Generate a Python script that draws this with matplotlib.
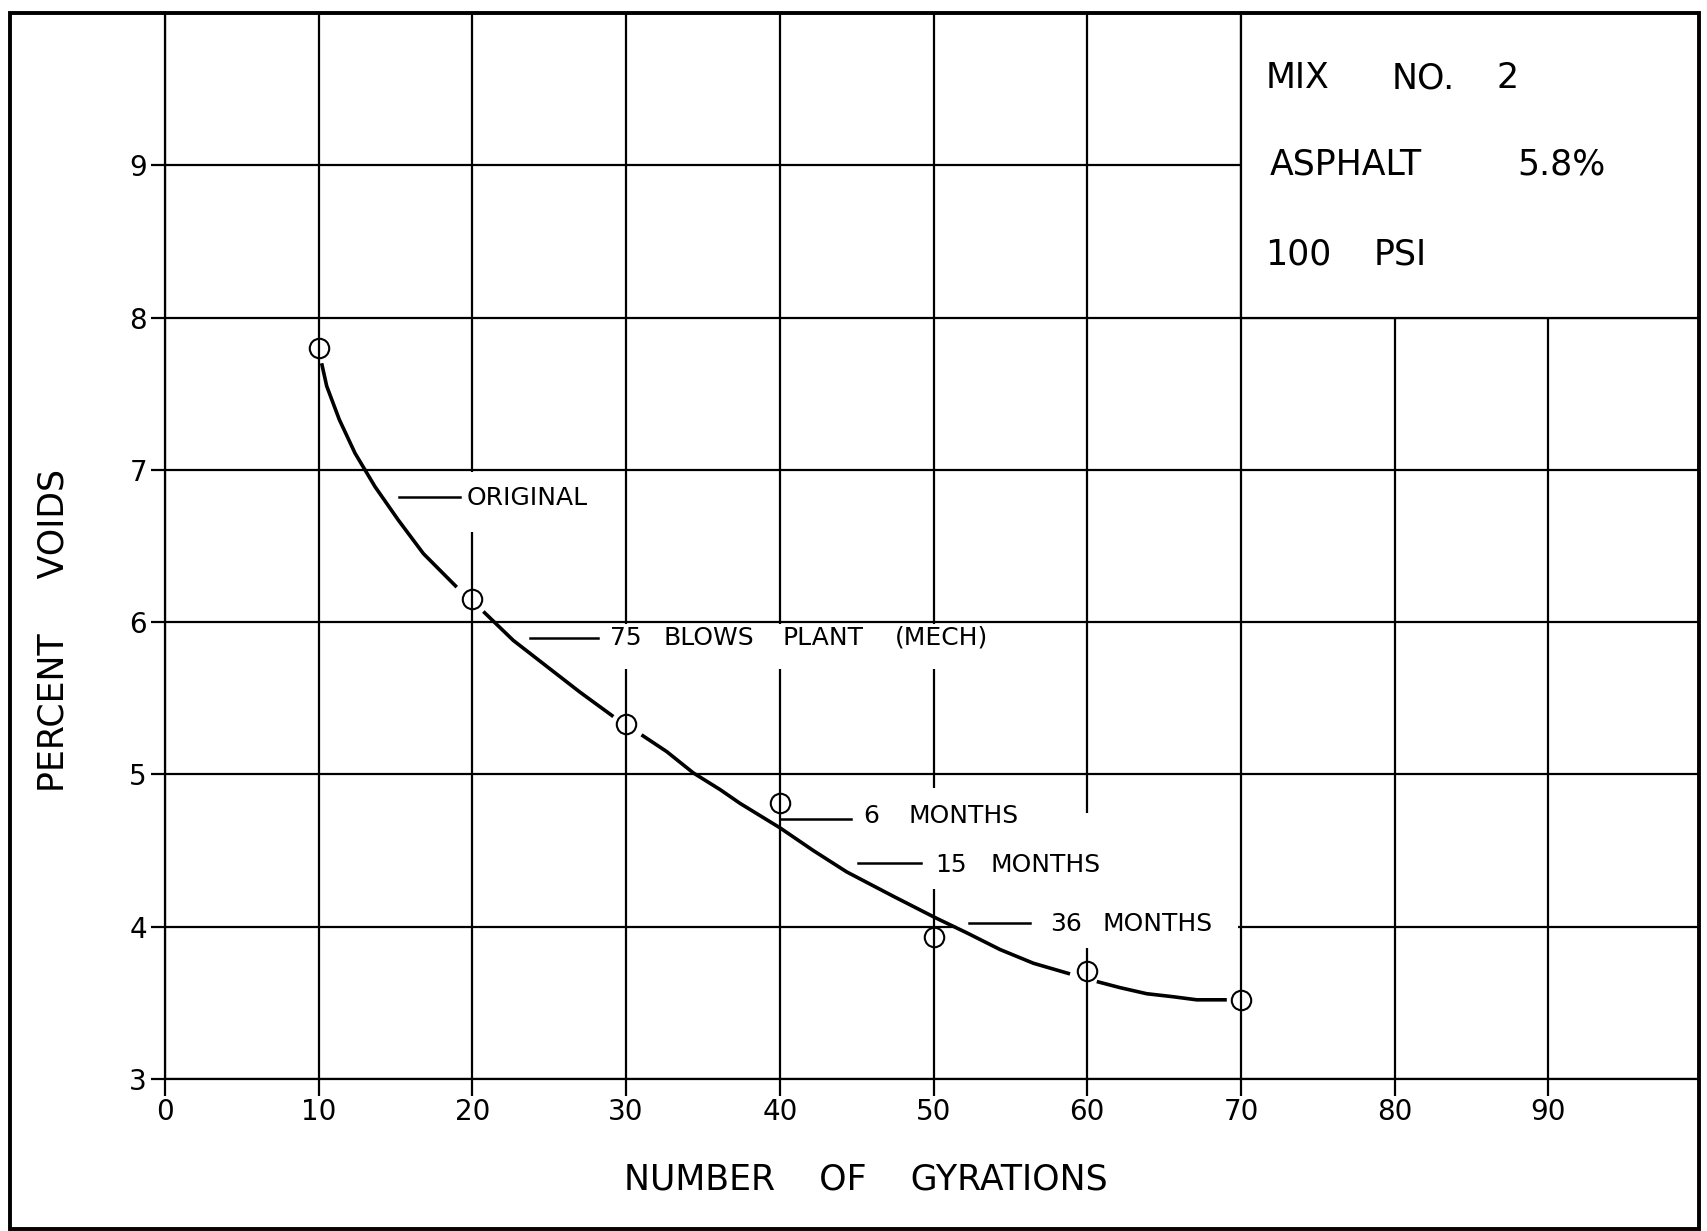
import matplotlib
matplotlib.use("Agg")
import matplotlib.pyplot as plt
from matplotlib.patches import Rectangle

# measured points (circles)
gyrations = [10, 20, 30, 40, 50, 60, 70]
voids = [7.80, 6.15, 5.33, 4.81, 3.93, 3.71, 3.52]

# hand drawn curve in four pieces (gaps at the circles)
curve_x1 = [10.19, 10.52, 11.34, 12.36, 13.01, 13.66, 15.18, 16.81, 18.98]
curve_y1 = [7.70, 7.55, 7.33, 7.11, 7.00, 6.89, 6.67, 6.45, 6.23]
curve_x2 = [20.71, 22.66, 24.83, 27.0, 29.17]
curve_y2 = [6.07, 5.88, 5.71, 5.54, 5.38]
curve_x3 = [31.0, 32.64, 34.37, 36.12, 37.41, 40.0, 42.18, 44.35, 47.38,
            50.1, 52.16, 54.33, 56.5, 58.88]
curve_y3 = [5.26, 5.15, 5.01, 4.90, 4.81, 4.65, 4.50, 4.36, 4.20,
            4.06, 3.96, 3.85, 3.76, 3.69]
curve_x4 = [60.62, 62.13, 63.87, 65.6, 67.12, 69.08]
curve_y4 = [3.64, 3.60, 3.56, 3.54, 3.52, 3.52]

x_ticks = list(range(0, 100, 10))
y_ticks = list(range(3, 10))

info_lines = [("MIX", "NO.", "2"), ("ASPHALT", "5.8%"), ("100", "PSI")]

plt.rcParams['font.family'] = 'DejaVu Sans'

W, H = 1708, 1231
fig = plt.figure(figsize=(W / 100, H / 100), dpi=100)
ax = fig.add_axes([165 / W, 1 - 1079 / H, (1699 - 165) / W, (1079 - 13) / H])
ax.set_xlim(0, 99.8)
ax.set_ylim(3, 10)

ax.set_xticks(x_ticks)
ax.set_yticks(y_ticks)
ax.tick_params(axis='x', direction='out', length=12, width=1.6, pad=2, labelsize=20)
ax.tick_params(axis='y', direction='out', length=10, width=1.6, pad=3, labelsize=20)
ax.set_axisbelow(True)
ax.grid(True, color='black', lw=1.6)
for side in ['top', 'right']:
    ax.spines[side].set_visible(False)
for side in ['left', 'bottom']:
    ax.spines[side].set_linewidth(1.6)

# white areas where the grid was left out behind the notes
masks = [(15.0, 6.59, 12.5, 0.395), (23.5, 5.69, 30.5, 0.30),
         (40.3, 4.60, 15.7, 0.31), (44.8, 4.25, 16.2, 0.50),
         (51.5, 3.86, 18.3, 0.39)]
for mx, my, mw, mh in masks:
    ax.add_patch(Rectangle((mx, my), mw, mh, facecolor='white', edgecolor='none', zorder=1))

# info box in upper right
bfs = 25
ax.add_patch(Rectangle((70, 8), 29.8, 2, facecolor='white', edgecolor='black', lw=1.6, zorder=1))
ax.text(71.6, 9.507, info_lines[0][0], fontsize=bfs, zorder=4)
ax.text(79.8, 9.507, info_lines[0][1], fontsize=bfs, zorder=4)
ax.text(86.6, 9.507, info_lines[0][2], fontsize=bfs, zorder=4)
ax.text(71.9, 8.94, info_lines[1][0], fontsize=bfs, zorder=4)
ax.text(88.0, 8.94, info_lines[1][1], fontsize=bfs, zorder=4)
ax.text(71.6, 8.35, info_lines[2][0], fontsize=bfs, zorder=4)
ax.text(78.6, 8.35, info_lines[2][1], fontsize=bfs, zorder=4)

# curve and points
for cx, cy in [(curve_x1, curve_y1), (curve_x2, curve_y2),
               (curve_x3, curve_y3), (curve_x4, curve_y4)]:
    ax.plot(cx, cy, color='black', lw=2.6, solid_capstyle='butt',
            solid_joinstyle='round', zorder=3)
ax.plot(gyrations, voids, 'o', ms=14, mfc='none', mec='black', mew=1.5, zorder=4)

# notes with leader lines
fs = 18
llw = 1.8
ax.plot([15.2, 19.2], [6.825, 6.825], color='black', lw=llw, zorder=3)
ax.text(19.6, 6.766, "ORIGINAL", fontsize=fs, zorder=4)

ax.plot([23.75, 28.2], [5.895, 5.895], color='black', lw=llw, zorder=3)
for word, wx in [("75", 28.97), ("BLOWS", 32.4), ("PLANT", 40.2), ("(MECH)", 47.5)]:
    ax.text(wx, 5.85, word, fontsize=fs, zorder=4)

ax.plot([40.1, 44.6], [4.708, 4.708], color='black', lw=llw, zorder=3)
ax.text(45.4, 4.683, "6", fontsize=fs, zorder=4)
ax.text(48.4, 4.683, "MONTHS", fontsize=fs, zorder=4)

ax.plot([45.1, 49.2], [4.417, 4.417], color='black', lw=llw, zorder=3)
ax.text(50.1, 4.362, "15", fontsize=fs, zorder=4)
ax.text(53.7, 4.362, "MONTHS", fontsize=fs, zorder=4)

ax.plot([52.3, 56.3], [4.023, 4.023], color='black', lw=llw, zorder=3)
ax.text(57.6, 3.974, "36", fontsize=fs, zorder=4)
ax.text(61.0, 3.974, "MONTHS", fontsize=fs, zorder=4)

# axis titles
fig.text(866 / W, 1 - 1180 / H, "NUMBER    OF    GYRATIONS", fontsize=25,
         ha='center', va='center')
fig.text(54 / W, 1 - 630 / H, "PERCENT     VOIDS", fontsize=25, rotation=90,
         ha='center', va='center')

# outer frame
fig.add_artist(Rectangle((10 / W, 2 / H), (1699 - 10) / W, (1229 - 13) / H,
                         transform=fig.transFigure, fill=False,
                         edgecolor='black', lw=2.8, zorder=10))

fig.savefig("out.png", dpi=100)
